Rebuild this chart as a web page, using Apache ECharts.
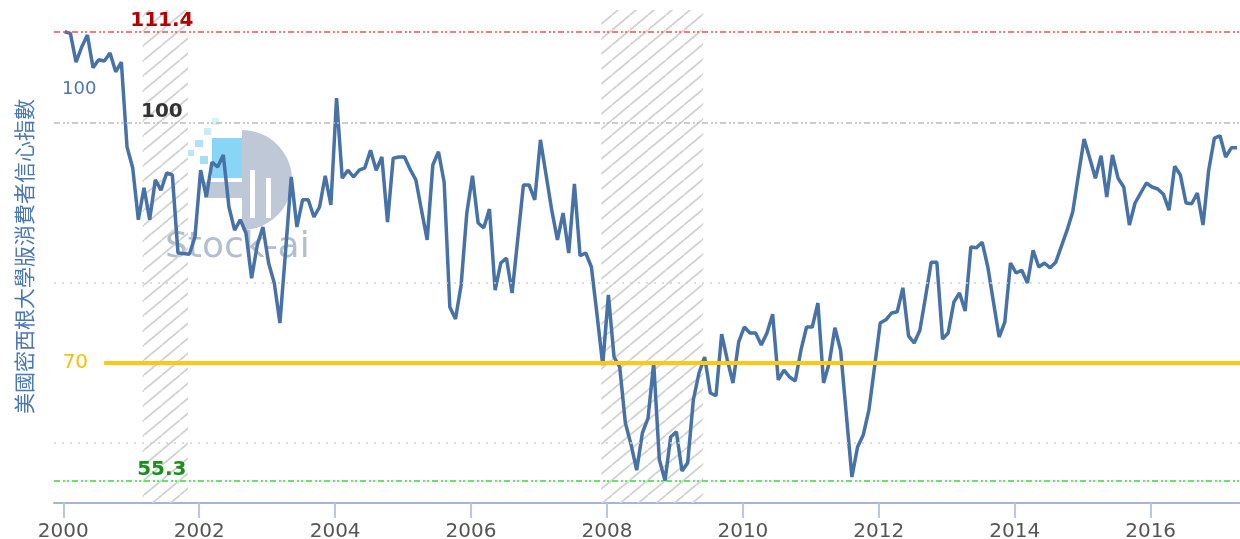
<!DOCTYPE html>
<html>
<head>
<meta charset="utf-8">
<script src="https://cdn.jsdelivr.net/npm/echarts@6/dist/echarts.min.js"></script>
<style>
  html, body { margin: 0; padding: 0; background: #fff; }
  #main { width: 1240px; height: 539px; }
</style>
</head>
<body>
<div id="main"></div>
<script>
// 美國密西根大學消費者信心指數, monthly, 2000-01 .. 2017-04
const firstYear = 2000;
const sentiment = [
  111.4, 111.2, 107.6, 109.5, 111.0, 106.9, 107.9, 107.75, 108.75, 106.4, 107.6, 97.0,   // 2000
  94.4, 87.9, 91.9, 87.9, 92.9, 91.6, 93.75, 93.5, 83.75, 83.7, 83.6, 85.75,            // 2001
  94.1, 90.75, 95.1, 94.5, 96.0, 89.5, 86.6, 87.9, 86.25, 80.6, 84.75, 87.0,            // 2002
  82.5, 80.0, 75.0, 84.0, 93.25, 87.0, 90.4, 90.4, 88.25, 89.5, 93.4, 89.75,            // 2003
  103.1, 93.1, 94.1, 93.25, 94.1, 94.4, 96.6, 94.1, 95.75, 87.6, 95.6, 95.75,           // 2004
  95.75, 94.2, 92.9, 89.1, 85.4, 94.75, 96.4, 92.6, 77.0, 75.5, 79.75, 88.75,           // 2005
  93.4, 87.5, 86.9, 89.25, 79.1, 82.5, 83.1, 78.75, 85.5, 92.25, 92.25, 90.4,           // 2006
  97.9, 93.5, 89.1, 85.4, 88.75, 83.75, 92.4, 83.4, 83.75, 82.0, 76.0, 69.75,           // 2007
  78.5, 70.75, 69.5, 62.5, 59.8, 56.6, 61.25, 63.1, 70.0, 57.9, 55.3, 60.75,            // 2008
  61.4, 56.5, 57.5, 65.4, 68.75, 70.75, 66.25, 65.9, 73.6, 70.4, 67.5, 72.6,            // 2009
  74.5, 73.75, 73.75, 72.25, 73.75, 76.1, 67.9, 69.1, 68.25, 67.75, 71.6, 74.5,         // 2010
  74.5, 77.5, 67.5, 70.0, 74.4, 71.6, 63.7, 55.75, 59.5, 61.0, 64.1, 69.5,              // 2011
  75.0, 75.4, 76.25, 76.4, 79.4, 73.4, 72.5, 74.1, 78.25, 82.6, 82.6, 73.0,             // 2012
  73.75, 77.6, 78.75, 76.5, 84.5, 84.4, 85.1, 82.0, 77.6, 73.25, 75.1, 82.5,            // 2013
  81.25, 81.6, 80.0, 84.1, 82.0, 82.5, 81.9, 82.6, 84.6, 86.6, 88.9, 93.5,              // 2014
  98.0, 95.6, 93.1, 95.9, 90.75, 96.0, 93.1, 92.0, 87.25, 90.0, 91.25, 92.5,            // 2015
  92.0, 91.75, 91.1, 89.1, 94.6, 93.5, 90.0, 89.9, 91.25, 87.25, 94.1, 98.1,            // 2016
  98.4, 95.75, 96.9, 96.9                                                               // 2017
];
const yearTicks = [2000, 2002, 2004, 2006, 2008, 2010, 2012, 2014, 2016];
const recessionStarts = ['2001-03', '2007-12'];
const recessionEnds = ['2001-11', '2009-06'];
const highValue = 111.4;
const baseValue = 100;
const lowValue = 55.3;
const alertValue = 70;
const gridValues = [60, 80];

const xMin = 1999.863, xMax = 2017.315;
const yMin = 52.5, yMax = 114.125;
const refLabelX = 2001.45;
const alertLineStart = 2000.6;

function ymToYear(s) {
  const p = s.split('-').map(Number);
  return p[0] + (p[1] - 1) / 12;
}

// diagonal hatch used for the recession bands
const hatch = document.createElement('canvas');
hatch.width = 18; hatch.height = 15;
const hctx = hatch.getContext('2d');
hctx.strokeStyle = '#d2d2d2';
hctx.lineWidth = 1.8;
for (let k = -1; k <= 1; k++) {
  hctx.beginPath();
  hctx.moveTo(k * 18, 15);
  hctx.lineTo(k * 18 + 18, 0);
  hctx.stroke();
}

const seriesData = sentiment.map((v, i) => [firstYear + (i + 0.25) / 12, v]);
const recessionAreas = recessionStarts.map((s, i) => [{ xAxis: ymToYear(s) }, { xAxis: ymToYear(recessionEnds[i]) }]);

const dashDot = [6, 3, 2, 2, 2, 3];
const fontFam = 'DejaVu Sans, sans-serif';

var chart = echarts.init(document.getElementById('main'));
var option = {
  animation: false,
  textStyle: { fontFamily: fontFam },
  grid: { left: 54, right: 0, top: 10, bottom: 36, containLabel: false, outerBoundsMode: 'none' },
  xAxis: {
    type: 'value',
    min: xMin,
    max: xMax,
    axisLine: { lineStyle: { color: '#a4b6d8', width: 2 } },
    axisTick: { show: true, length: 15, customValues: yearTicks, lineStyle: { color: '#b8c8e2', width: 2 } },
    axisLabel: {
      customValues: yearTicks,
      formatter: function (v) { return String(Math.round(v)); },
      color: '#555', fontSize: 20, margin: 19, fontFamily: fontFam
    },
    splitLine: { show: false }
  },
  yAxis: {
    type: 'value',
    min: yMin,
    max: yMax,
    axisLine: { show: false },
    axisTick: { show: false },
    axisLabel: { show: false },
    splitLine: { show: false },
    name: '美國密西根大學版消費者信心指數',
    nameLocation: 'middle',
    nameRotate: 90,
    nameGap: 19,
    nameTextStyle: { color: '#4a78b5', fontSize: 21, fontFamily: 'Noto Sans CJK TC' }
  },
  graphic: [
    // faint Stock-ai watermark
    { type: 'group', z: 0, children: [
      { type: 'sector', shape: { cx: 242, cy: 180, r: 50, startAngle: -Math.PI / 2, endAngle: Math.PI / 2 },
        style: { fill: '#a9b5ca', opacity: 0.75 } },
      { type: 'rect', shape: { x: 212, y: 138, width: 30, height: 40 }, style: { fill: '#6ccaf2', opacity: 0.8 } },
      { type: 'rect', shape: { x: 204, y: 182, width: 38, height: 16 }, style: { fill: '#a9b5ca', opacity: 0.75 } },
      { type: 'rect', shape: { x: 250, y: 170, width: 5, height: 48 }, style: { fill: '#fff' } },
      { type: 'rect', shape: { x: 266, y: 178, width: 5, height: 40 }, style: { fill: '#fff' } },
      { type: 'rect', shape: { x: 195, y: 140, width: 8, height: 7 }, style: { fill: '#8dd6f4', opacity: 0.7 } },
      { type: 'rect', shape: { x: 204, y: 128, width: 7, height: 7 }, style: { fill: '#b6e3f7', opacity: 0.7 } },
      { type: 'rect', shape: { x: 200, y: 156, width: 8, height: 8 }, style: { fill: '#7fd0f3', opacity: 0.7 } },
      { type: 'rect', shape: { x: 188, y: 150, width: 6, height: 6 }, style: { fill: '#9edbf5', opacity: 0.7 } },
      { type: 'rect', shape: { x: 212, y: 118, width: 7, height: 7 }, style: { fill: '#c8ebfa', opacity: 0.7 } },
      { type: 'text', left: 165, top: 230, style: { text: 'Stock-ai', fill: '#b3bed1', font: '36px DejaVu Sans' } }
    ]},
    // blue 100 note at the left edge
    { type: 'text', z: 10, left: 62, top: 80, style: { text: '100', fill: '#4a78b5', font: '18px DejaVu Sans' } }
  ],
  series: [
    {
      type: 'line',
      data: seriesData,
      showSymbol: false,
      symbol: 'none',
      lineStyle: { color: '#4672a8', width: 3.5 },
      z: 3,
      markArea: {
        silent: true,
        itemStyle: { color: { image: hatch, repeat: 'repeat' } },
        data: recessionAreas
      },
      markLine: {
        silent: true,
        symbol: 'none',
        label: { show: false },
        data: [
          { yAxis: gridValues[0], lineStyle: { color: '#d0d0d0', type: [2, 6], width: 1.5 } },
          { yAxis: gridValues[1], lineStyle: { color: '#d0d0d0', type: [2, 6], width: 1.5 } },
          { yAxis: highValue, lineStyle: { color: '#ff4a4a', type: dashDot, width: 1.5 } },
          { yAxis: baseValue, lineStyle: { color: '#bcbcbc', type: dashDot, width: 1.5 } },
          { yAxis: lowValue, lineStyle: { color: '#33dd33', type: dashDot, width: 1.5 } },
          [
            { coord: [alertLineStart, alertValue], lineStyle: { color: '#ffc814', type: 'solid', width: 4 },
              label: { show: true, position: 'start', distance: 16, formatter: String(alertValue),
                       color: '#f7c200', fontSize: 20, fontFamily: fontFam } },
            { coord: [xMax, alertValue] }
          ]
        ]
      },
      markPoint: {
        silent: true,
        symbol: 'circle',
        symbolSize: 0,
        label: { show: true, position: 'top', distance: 1, fontSize: 20, fontWeight: 'bold', fontFamily: fontFam },
        data: [
          { coord: [refLabelX, highValue], label: { formatter: String(highValue), color: '#b30000' } },
          { coord: [refLabelX, baseValue], label: { formatter: String(baseValue), color: '#333' } },
          { coord: [refLabelX, lowValue], label: { formatter: String(lowValue), color: '#1a901a' } }
        ]
      }
    }
  ]
};
option && chart.setOption(option);
</script>
</body>
</html>
